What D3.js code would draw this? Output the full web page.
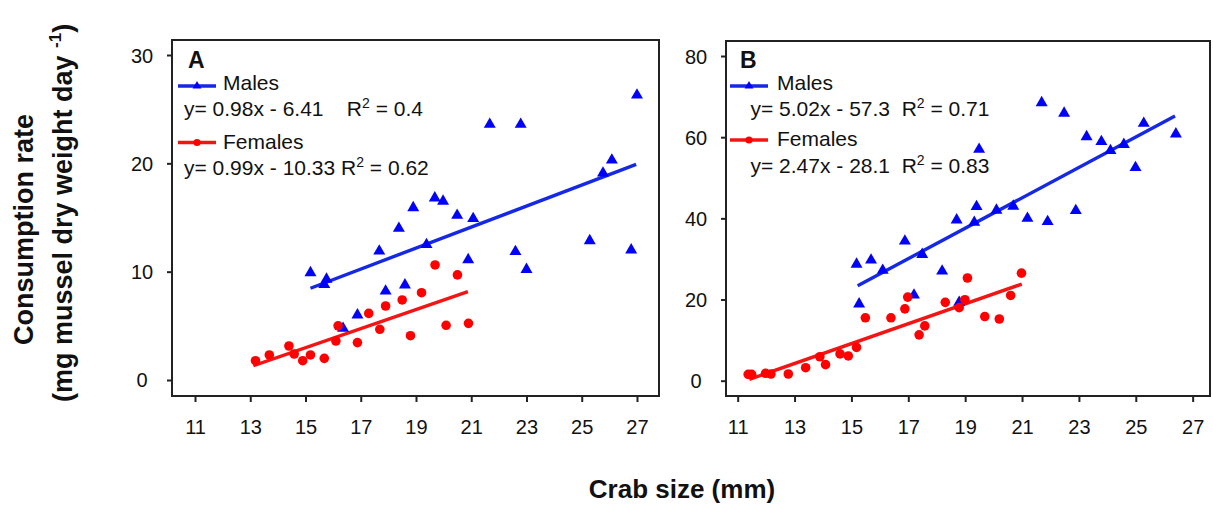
<!DOCTYPE html>
<html><head><meta charset="utf-8">
<script src="https://cdn.jsdelivr.net/npm/d3@7"></script>
<style>
html,body{margin:0;padding:0;background:#fff;}
svg text{font-family:"Liberation Sans",Arial,sans-serif;fill:#111;white-space:pre;}
</style></head>
<body><svg id="c" width="1213" height="515"></svg>
<script>
// ---------- data ----------
const xTicks = [11, 13, 15, 17, 19, 21, 23, 25, 27];
const yTicksA = [0, 10, 20, 30];
const yTicksB = [0, 20, 40, 60, 80];

const malesAx = [27.0, 21.67, 22.79, 26.09, 25.77, 19.68, 19.98, 18.9, 20.49, 21.07, 18.38, 17.67, 19.38, 22.6, 25.29, 26.79, 20.89, 23.0, 15.18, 15.76, 15.68, 17.9, 18.6, 16.88, 16.36];
const malesAy = [26.3, 23.6, 23.6, 20.3, 19.1, 16.8, 16.5, 15.9, 15.2, 14.9, 14.0, 11.9, 12.5, 11.85, 12.86, 12.0, 11.1, 10.2, 9.9, 9.3, 8.8, 8.2, 8.77, 6.0, 4.77];
const femalesAx = [13.19, 13.69, 14.4, 14.59, 14.9, 15.18, 15.68, 16.1, 16.18, 16.88, 17.29, 17.69, 17.9, 18.5, 18.8, 19.2, 19.69, 20.5, 20.09, 20.9];
const femalesAy = [1.78, 2.31, 3.14, 2.4, 1.78, 2.31, 2.0, 3.6, 5.0, 3.45, 6.15, 4.68, 6.83, 7.39, 4.09, 8.06, 10.62, 9.7, 5.05, 5.23];

const malesBx = [21.69, 22.48, 25.28, 26.41, 23.27, 23.79, 24.58, 24.11, 19.49, 24.99, 19.4, 20.1, 20.69, 22.89, 21.19, 18.7, 19.32, 21.9, 16.88, 17.49, 15.69, 15.18, 16.1, 18.19, 17.2, 15.27, 18.79];
const malesBy = [68.5, 65.9, 63.4, 60.8, 60.1, 58.9, 58.2, 56.7, 57.0, 52.5, 42.9, 42.0, 43.0, 41.9, 40.0, 39.6, 39.0, 39.2, 34.4, 31.1, 29.7, 28.7, 27.2, 27.0, 21.1, 18.9, 19.3];
const femalesBx = [11.37, 11.49, 11.98, 12.17, 12.78, 13.39, 13.89, 14.09, 14.6, 14.89, 15.18, 15.49, 16.39, 16.88, 16.98, 17.38, 17.58, 18.3, 18.79, 18.99, 19.08, 19.69, 20.2, 20.6, 20.98];
const femalesBy = [1.57, 1.57, 1.82, 1.65, 1.65, 3.2, 5.9, 3.95, 6.6, 6.1, 8.2, 15.5, 15.5, 17.7, 20.6, 11.3, 13.5, 19.3, 18.0, 19.95, 25.3, 15.8, 15.2, 21.0, 26.5];

// fitted lines as drawn (start/end)
const fitMalesAx = [15.18, 26.97], fitMalesAy = [8.47, 19.91];
const fitFemalesAx = [13.11, 20.88], fitFemalesAy = [1.32, 8.15];
const fitMalesBx = [15.22, 26.38], fitMalesBy = [23.4, 65.2];
const fitFemalesBx = [11.41, 20.99], fitFemalesBy = [0.34, 23.8];

const panelLabels = ["A", "B"];
const seriesNames = ["Males", "Females"];
const eqA = [["y= 0.98x - 6.41    R", "2", " = 0.4"], ["y= 0.99x - 10.33 R", "2", " = 0.62"]];
const eqB = [["y= 5.02x - 57.3  R", "2", " = 0.71"], ["y= 2.47x - 28.1  R", "2", " = 0.83"]];
const xTitle = "Crab size (mm)";
const yTitle1 = "Consumption rate";
const yTitle2 = ["(mg mussel dry weight day ", "-1", ")"];

// ---------- drawing ----------
const svg = d3.select("#c");
const BLUE = "#0000ff", RED = "#ff0000", LBLUE = "#1428e6", LRED = "#f51414";
const AX = "#222";

const panels = [
  {box: {l: 172, t: 40, r: 659, b: 396}, xd: [10.167, 27.797], yd: [-1.477, 31.385], yt: yTicksA,
   m: [malesAx, malesAy], f: [femalesAx, femalesAy], fm: [fitMalesAx, fitMalesAy], ff: [fitFemalesAx, fitFemalesAy],
   label: panelLabels[0], eq: eqA,
   leg: {lx: 178, lab: [188, 68], lineY: [86, 142.5], textY: [90, 149], eqX: 184, eqY: [116, 175], textX: 223}},
  {box: {l: 726, t: 41, r: 1210, b: 396}, xd: [10.589, 27.61], yd: [-3.77, 83.7], yt: yTicksB,
   m: [malesBx, malesBy], f: [femalesBx, femalesBy], fm: [fitMalesBx, fitMalesBy], ff: [fitFemalesBx, fitFemalesBy],
   label: panelLabels[1], eq: eqB,
   leg: {lx: 730, lab: [740, 67.5], lineY: [86, 140], textY: [90, 146], eqX: 750.5, eqY: [116, 172.5], textX: 777}}
];

const tri = d3.symbol().type(d3.symbolTriangle).size(62)();
const triLeg = d3.symbol().type(d3.symbolTriangle).size(34)();

panels.forEach(p => {
  const x = d3.scaleLinear().domain(p.xd).range([p.box.l, p.box.r]);
  const y = d3.scaleLinear().domain(p.yd).range([p.box.b, p.box.t]);
  const g = svg.append("g");

  // frame
  g.append("rect").attr("x", p.box.l).attr("y", p.box.t)
    .attr("width", p.box.r - p.box.l).attr("height", p.box.b - p.box.t)
    .attr("fill", "none").attr("stroke", AX).attr("stroke-width", 2);

  // x axis
  const xa = g.append("g").attr("transform", `translate(0,${p.box.b})`)
    .call(d3.axisBottom(x).tickValues(xTicks).tickSize(6).tickPadding(18).tickFormat(d3.format("d")));
  xa.select(".domain").remove();
  xa.selectAll("line").attr("stroke", AX).attr("stroke-width", 2);
  xa.selectAll("text").attr("font-size", 20).attr("fill", "#111").attr("font-family", "Liberation Sans, Arial, sans-serif");

  // y axis
  const ya = g.append("g").attr("transform", `translate(${p.box.l},0)`)
    .call(d3.axisLeft(y).tickValues(p.yt).tickSize(5).tickPadding(0).tickFormat(d3.format("d")));
  ya.select(".domain").remove();
  ya.selectAll("line").attr("stroke", AX).attr("stroke-width", 2);
  ya.selectAll("text").attr("font-size", 20).attr("fill", "#111").attr("text-anchor", "middle")
    .attr("x", -30).attr("dy", "0.35em").attr("font-family", "Liberation Sans, Arial, sans-serif");

  // fitted lines
  const line = d3.line().x(d => x(d[0])).y(d => y(d[1]));
  g.append("path").attr("d", line(d3.zip(p.fm[0], p.fm[1]))).attr("stroke", LBLUE).attr("stroke-width", 3.4).attr("fill", "none");
  g.append("path").attr("d", line(d3.zip(p.ff[0], p.ff[1]))).attr("stroke", LRED).attr("stroke-width", 3.4).attr("fill", "none");

  // points
  g.selectAll(".m").data(d3.zip(p.m[0], p.m[1])).join("path").attr("class", "m")
    .attr("d", tri).attr("fill", BLUE)
    .attr("transform", d => `translate(${x(d[0])},${y(d[1])})`);
  g.selectAll(".f").data(d3.zip(p.f[0], p.f[1])).join("circle").attr("class", "f")
    .attr("cx", d => x(d[0])).attr("cy", d => y(d[1])).attr("r", 4.8).attr("fill", RED);

  // panel label
  g.append("text").attr("x", p.leg.lab[0]).attr("y", p.leg.lab[1]).attr("font-size", 23)
    .attr("font-weight", "bold").text(p.label);

  // legend
  const L = p.leg;
  [0, 1].forEach(i => {
    const col = i === 0 ? LBLUE : LRED;
    g.append("line").attr("x1", L.lx).attr("x2", L.lx + 38).attr("y1", L.lineY[i]).attr("y2", L.lineY[i])
      .attr("stroke", col).attr("stroke-width", 3.4);
    if (i === 0) {
      g.append("path").attr("d", triLeg).attr("fill", BLUE).attr("transform", `translate(${L.lx + 19},${L.lineY[i]})`);
    } else {
      g.append("circle").attr("cx", L.lx + 19).attr("cy", L.lineY[i]).attr("r", 3.6).attr("fill", RED);
    }
    g.append("text").attr("x", L.textX).attr("y", L.textY[i]).attr("font-size", 21).text(seriesNames[i]);
    const t = g.append("text").attr("x", L.eqX).attr("y", L.eqY[i]).attr("font-size", 21);
    t.append("tspan").text(p.eq[i][0]);
    t.append("tspan").attr("font-size", 14).attr("dy", -8).text(p.eq[i][1]);
    t.append("tspan").attr("dy", 8).text(p.eq[i][2]);
  });
});

// axis titles
svg.append("text").attr("x", 682).attr("y", 498).attr("text-anchor", "middle")
  .attr("font-size", 26).attr("font-weight", "bold").text(xTitle);

svg.append("text").attr("transform", "translate(33,345) rotate(-90)")
  .attr("font-size", 27).attr("font-weight", "bold").text(yTitle1);
const yt2 = svg.append("text").attr("transform", "translate(72,402) rotate(-90)")
  .attr("font-size", 27).attr("font-weight", "bold");
yt2.append("tspan").text(yTitle2[0]);
yt2.append("tspan").attr("font-size", 17).attr("dy", -11).text(yTitle2[1]);
yt2.append("tspan").attr("dy", 11).text(yTitle2[2]);
</script></body></html>
